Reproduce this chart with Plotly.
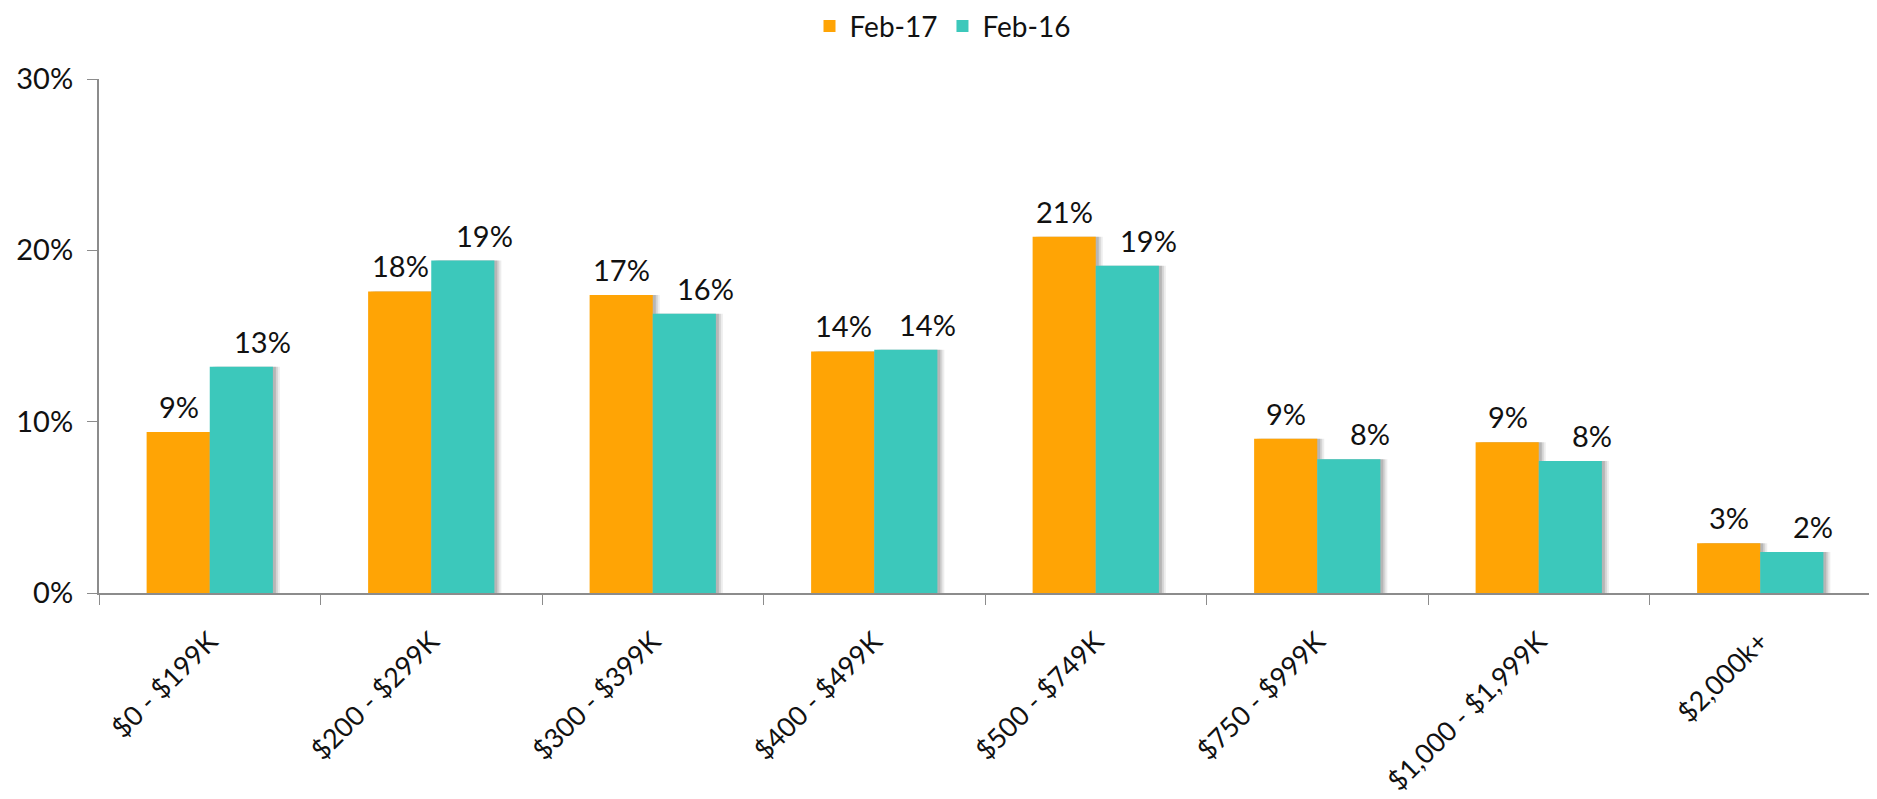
import plotly.graph_objects as go

categories = ["$0 - $199K", "$200 - $299K", "$300 - $399K", "$400 - $499K",
              "$500 - $749K", "$750 - $999K", "$1,000 - $1,999K", "$2,000k+"]
feb17 = [0.094, 0.176, 0.174, 0.141, 0.208, 0.090, 0.088, 0.029]
feb16 = [0.132, 0.194, 0.163, 0.142, 0.191, 0.078, 0.077, 0.024]
series_names = ["Feb-17", "Feb-16"]
colors = ["#FFA405", "#3CC8BB"]

FONT = "Lato"
BW = 0.285          # bar width in category units
PX = 1.0 / 221.5    # one pixel in category units

fig = go.Figure()
series = [(series_names[0], feb17, colors[0], -BW), (series_names[1], feb16, colors[1], 0.0)]

# soft drop shadows (drawn first, behind bars)
for name, vals, col, off in series:
    for dx, a in [(7, 0.07), (5, 0.10), (3, 0.14)]:
        fig.add_trace(go.Bar(x=categories, y=vals, offset=off + dx * PX, width=BW,
                             marker_color=f"rgba(0,0,0,{a})", marker_line_width=0,
                             showlegend=False, hoverinfo="skip"))

for name, vals, col, off in series:
    fig.add_trace(go.Bar(x=categories, y=vals, name=name, marker_color=col,
                         offset=off, width=BW, marker_line_width=0, hoverinfo="skip"))

# value labels
for vals, shift in [(feb17, -31), (feb16, 53)]:
    for c, v in zip(categories, vals):
        fig.add_annotation(x=c, y=v, xref="x", yref="y", text=f"{round(v*100):d}%",
                           showarrow=False, yanchor="bottom", xshift=shift, yshift=6,
                           font=dict(family=FONT, size=29, color="#111111"))

fig.update_layout(
    width=1869, height=791,
    margin=dict(l=91, r=6, t=71, b=206, autoexpand=False),
    paper_bgcolor="white", plot_bgcolor="white",
    barmode="overlay",
    font=dict(family=FONT, size=28, color="#111111"),
    legend=dict(orientation="h", x=0.5, xanchor="center", xref="container",
                y=0.977, yanchor="middle", yref="container",
                font=dict(family=FONT, size=28), itemwidth=30, traceorder="normal"),
    showlegend=True,
)
fig.update_xaxes(showline=True, linecolor="#8C8C8C", linewidth=2, automargin=False,
                 ticks="outside", tickson="boundaries", ticklen=10, tickcolor="#8C8C8C",
                 tickwidth=1, tickangle=-45, showgrid=False, ticklabelstandoff=20,
                 tickfont=dict(family=FONT, size=27))
fig.update_yaxes(range=[0, 0.30], tickvals=[0, 0.1, 0.2, 0.3], tickformat=".0%",
                 showline=True, linecolor="#8C8C8C", linewidth=2, ticks="outside",
                 ticklen=10, tickcolor="#8C8C8C", tickwidth=1, showgrid=False,
                 zeroline=False, ticklabelstandoff=8, automargin=False,
                 tickfont=dict(family=FONT, size=29))
fig.write_html("out.html")
